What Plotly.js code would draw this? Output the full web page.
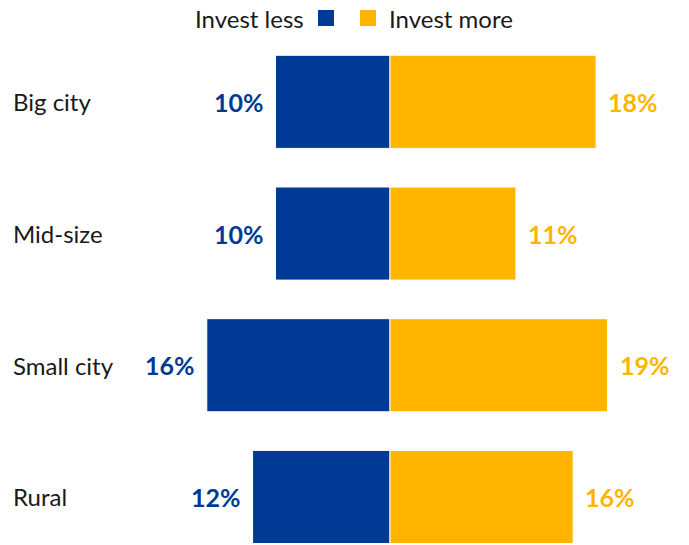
<!DOCTYPE html>
<html>
<head>
<meta charset="utf-8">
<script src="https://cdn.plot.ly/plotly-3.0.1.min.js"></script>
<style>
  html, body { margin: 0; padding: 0; background: #fff; }
  #chart { width: 689px; height: 545px; }
</style>
</head>
<body>
<div id="chart"></div>
<script>
// Share of respondents by community type, diverging bars
var categories = ['Big city', 'Mid-size', 'Small city', 'Rural'];
var investLess = [10, 10, 16, 12];
var investMore = [18, 11, 19, 16];

var blue = '#003A96';
var yellow = '#FFB500';
var font = 'Lato, "Open Sans", sans-serif';

var lessTrace = {
    type: 'bar',
    orientation: 'h',
    name: 'Invest less',
    y: categories,
    x: investLess.map(function (v) { return -v; }),
    width: 0.707,
    marker: { color: blue, line: { color: '#fff', width: 1 } },
    hoverinfo: 'skip'
};

var moreTrace = {
    type: 'bar',
    orientation: 'h',
    name: 'Invest more',
    y: categories,
    x: investMore,
    width: 0.707,
    marker: { color: yellow, line: { color: '#fff', width: 1 } },
    hoverinfo: 'skip'
};

var annotations = [];
categories.forEach(function (c, i) {
    // category label on the left edge
    annotations.push({
        xref: 'paper', x: 0, xanchor: 'left', xshift: 11,
        y: c, yref: 'y', yanchor: 'middle',
        text: c, showarrow: false,
        font: { family: font, size: 24, color: '#1a1a1a' }
    });
    annotations.push({
        x: -investLess[i], y: c, xanchor: 'right', xshift: -10,
        text: '<b>' + investLess[i] + '%</b>', showarrow: false,
        font: { family: font, size: 25, color: blue }
    });
    annotations.push({
        x: investMore[i], y: c, xanchor: 'left', xshift: 10,
        text: '<b>' + investMore[i] + '%</b>', showarrow: false,
        font: { family: font, size: 25, color: yellow }
    });
});

// legend: text left of the blue square, right of the yellow one
annotations.push({
    xref: 'paper', yref: 'paper', x: 306 / 689, y: 1, yshift: 18,
    xanchor: 'right', yanchor: 'middle', showarrow: false,
    text: 'Invest less', font: { family: font, size: 24, color: '#1a1a1a' }
});
annotations.push({
    xref: 'paper', yref: 'paper', x: 387 / 689, y: 1, yshift: 18,
    xanchor: 'left', yanchor: 'middle', showarrow: false,
    text: 'Invest more', font: { family: font, size: 24, color: '#1a1a1a' }
});

var layout = {
    width: 689,
    height: 545,
    margin: { l: 0, r: 0, t: 36, b: 0 },
    paper_bgcolor: '#fff',
    plot_bgcolor: '#fff',
    barmode: 'relative',
    showlegend: false,
    xaxis: {
        range: [-390 / 11.45, 299 / 11.45],
        visible: false,
        fixedrange: true
    },
    yaxis: {
        type: 'category',
        range: [3.365, -0.5],
        visible: false,
        fixedrange: true
    },
    shapes: [
        { type: 'rect', xref: 'paper', yref: 'paper',
          x0: 318 / 689, x1: 334 / 689, y0: 1 + 10 / 509, y1: 1 + 26 / 509,
          fillcolor: blue, line: { width: 0 } },
        { type: 'rect', xref: 'paper', yref: 'paper',
          x0: 360 / 689, x1: 376 / 689, y0: 1 + 10 / 509, y1: 1 + 26 / 509,
          fillcolor: yellow, line: { width: 0 } }
    ],
    annotations: annotations
};

Plotly.newPlot('chart', [lessTrace, moreTrace], layout, { displayModeBar: false, staticPlot: true });
</script>
</body>
</html>
